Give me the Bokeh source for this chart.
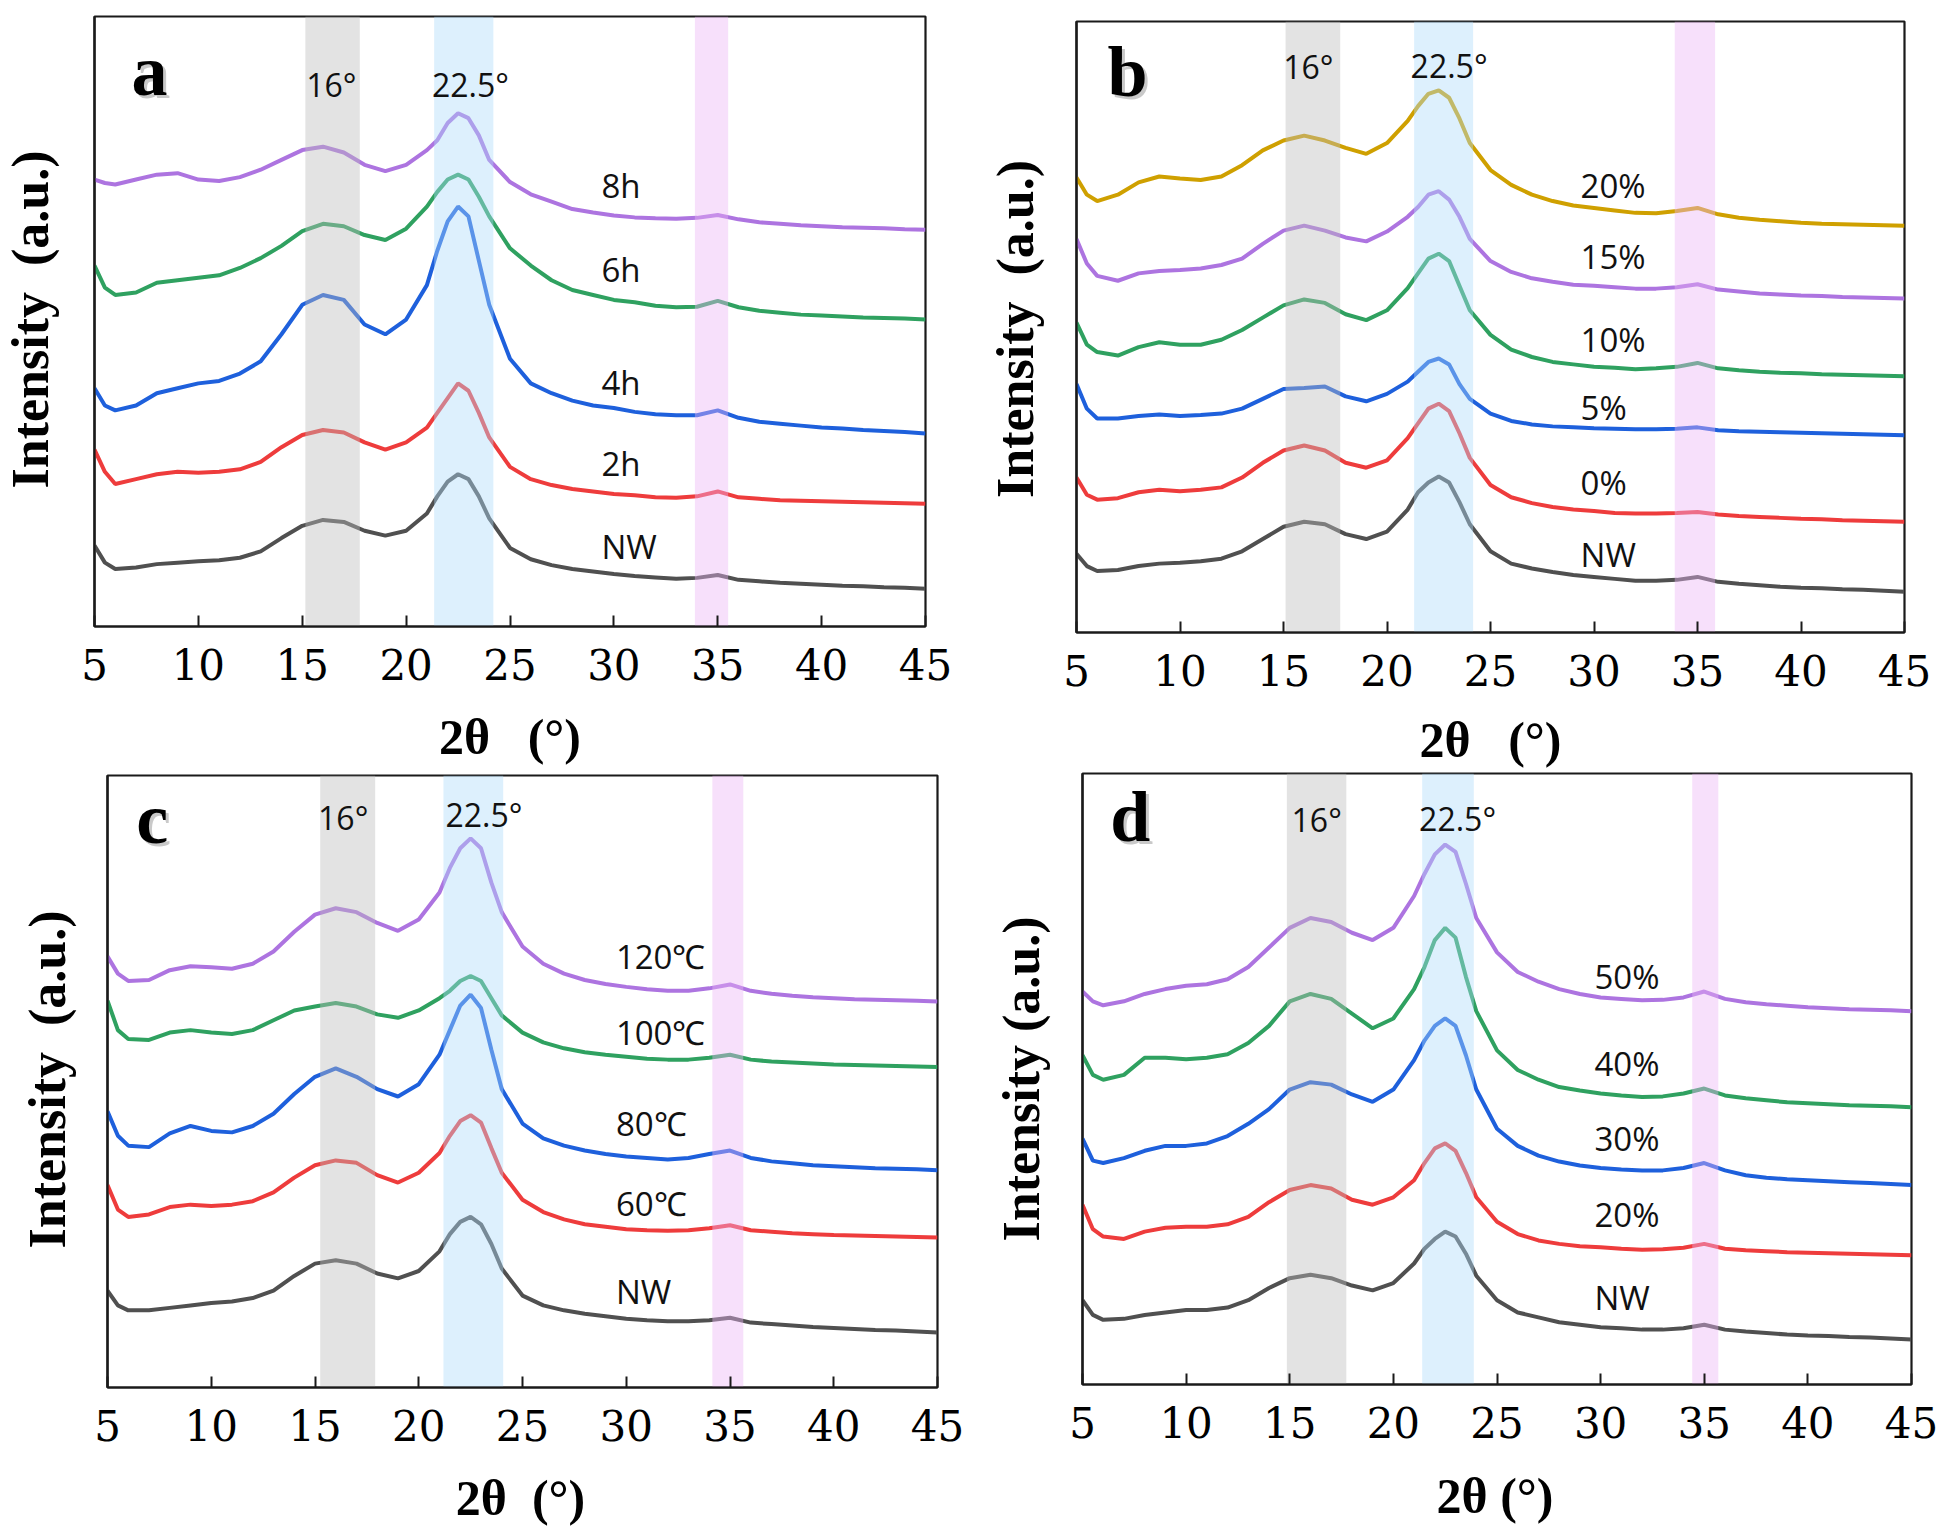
import math
from bokeh.plotting import figure
from bokeh.layouts import column, row
from bokeh.models import FixedTicker, Spacer
from bokeh.core.properties import value
from bokeh.embed import file_html
from bokeh.resources import INLINE

# ---------------- data (2theta in degrees, intensity in a.u.) ----------------
two_theta = [5, 5.5, 6, 7, 8, 9, 10, 11, 12, 13, 14, 15, 16, 17, 18, 19, 20, 21, 21.5,
             22, 22.5, 23, 23.5, 24, 25, 26, 27, 28, 29, 30, 31, 32, 33, 34, 35, 36,
             37, 38, 39, 40, 41, 42, 43, 44, 45]

# panel a : reaction time
a_labels = ["NW", "2h", "4h", "6h", "8h"]
a_NW = [165,130,117,120,127,130,133,135,140,153,180,205,217,213,195,185,195,230,265,295,310,300,265,220,160,137,125,117,112,107,103,100,97,99,105,95,92,89,87,85,83,82,80,79,77]
a_2h = [360,315,290,300,310,315,313,315,320,335,365,390,400,395,375,360,375,405,435,465,495,480,435,385,325,300,288,280,275,270,267,263,262,265,275,263,260,257,256,255,254,253,252,251,250]
a_4h = [485,450,440,450,475,485,495,500,515,540,595,655,675,665,615,595,625,695,765,825,855,835,745,655,545,495,475,460,450,445,437,432,430,430,440,425,417,413,409,405,403,400,398,396,393]
a_6h = [735,690,675,680,700,705,710,715,730,750,775,805,820,815,797,787,810,855,885,910,920,910,875,835,770,735,705,685,675,665,660,653,650,651,663,650,643,639,635,633,631,629,628,627,625]
a_8h = [910,903,900,910,920,923,910,907,915,930,950,970,977,965,940,927,940,970,990,1025,1045,1035,1000,950,905,880,865,850,843,837,833,831,830,832,838,829,823,820,817,815,813,812,811,809,808]
a_label_y = [140, 310, 475, 705, 875]

# panel b : concentration
b_labels = ["NW", "0%", "5%", "10%", "15%", "20%"]
b_NW = [160,135,125,127,135,140,142,145,150,165,190,215,225,220,200,190,205,250,285,305,317,305,265,220,165,140,130,123,117,113,109,105,105,107,113,103,99,96,93,91,90,88,87,85,83]
b_0 = [315,280,270,273,285,290,287,290,295,315,345,370,380,370,345,335,350,395,425,455,465,450,405,355,300,275,263,255,250,247,243,242,242,243,245,240,237,235,233,231,230,228,227,226,225]
b_5 = [505,455,435,435,440,443,440,442,445,455,475,495,497,500,480,470,485,510,530,550,557,545,505,475,445,430,423,419,417,415,414,413,413,414,417,411,409,408,407,406,405,404,403,402,401]
b_10 = [630,585,570,563,580,590,585,585,595,615,640,665,677,670,647,635,655,700,730,760,770,755,705,655,605,575,560,550,545,540,538,535,537,540,548,537,533,530,528,527,525,524,523,522,521]
b_15 = [800,750,725,715,730,735,737,740,747,760,790,817,827,817,803,795,815,845,865,890,897,880,845,800,755,733,720,713,707,705,702,699,699,702,708,697,693,689,687,685,684,682,681,680,679]
b_20 = [925,890,877,890,915,927,923,920,927,950,980,1000,1010,1000,985,973,995,1040,1070,1095,1102,1087,1045,995,940,910,890,877,868,863,858,853,852,857,863,850,843,839,836,833,831,830,829,828,827]
b_label_y = [137, 282, 435, 573, 742, 887]

# panel c : temperature
c_labels = ["NW", "60\u2103", "80\u2103", "100\u2103", "120\u2103"]
c_NW = [197,167,157,157,162,167,172,175,182,197,227,252,259,252,232,222,237,277,312,337,347,332,292,242,187,167,157,150,145,140,137,135,135,137,142,132,129,126,123,121,119,117,116,114,112]
c_60 = [412,362,347,352,367,372,369,372,379,397,427,452,462,457,432,417,437,477,512,542,554,539,487,437,382,357,342,332,327,322,320,319,320,324,330,320,317,314,312,310,309,308,307,306,305]
c_80 = [562,512,492,489,517,532,522,519,532,557,597,632,649,632,607,592,617,677,727,777,799,772,687,607,537,507,492,482,475,470,467,464,467,475,482,467,460,456,452,450,448,446,445,444,442]
c_100 = [787,727,709,707,722,727,722,719,727,747,767,775,782,775,759,752,767,792,807,827,837,827,792,757,722,702,690,682,677,673,669,667,667,671,677,667,663,661,659,657,656,655,654,653,652]
c_120 = [877,842,827,829,849,857,855,852,862,887,927,962,975,967,945,929,952,1007,1057,1097,1117,1097,1027,967,897,862,842,829,821,815,810,807,807,812,820,807,801,797,794,792,790,789,788,787,785]
c_label_y = [172, 352, 515, 699, 854]

# panel d : ratio
d_labels = ["NW", "20%", "30%", "40%", "50%"]
d_NW = [172,142,132,134,142,147,152,152,157,172,197,217,224,217,202,192,207,247,277,297,312,302,267,222,172,147,137,127,122,117,115,112,112,115,122,112,108,105,102,100,99,97,96,94,92]
d_20 = [367,317,302,297,312,320,322,322,327,342,372,397,407,400,377,367,382,417,452,482,492,477,432,382,332,307,294,287,282,280,277,275,276,279,287,277,274,272,270,269,268,267,266,265,264]
d_30 = [502,457,452,462,477,487,487,492,507,532,562,602,617,612,592,577,602,662,702,732,747,732,672,602,522,487,467,455,447,442,439,437,437,442,452,437,427,422,419,417,415,413,411,409,407]
d_40 = [672,632,622,632,667,667,664,667,674,697,732,782,797,787,757,727,747,807,852,907,932,912,832,762,682,642,622,607,600,594,590,587,588,594,604,590,584,580,576,574,572,570,569,568,566]
d_50 = [802,782,774,782,797,807,814,817,827,852,892,932,952,944,922,907,932,997,1042,1082,1102,1087,1022,952,882,842,822,807,797,790,787,784,785,790,802,787,780,776,773,770,768,766,765,764,762]
d_label_y = [155, 325, 479, 632, 810]

# shaded regions (left, right in degrees): 16 deg, 22.5 deg, 35 deg
a_band_l = [15.15, 21.35, 33.9];  a_band_r = [17.77, 24.2, 35.5]
b_band_l = [15.1, 21.31, 33.9];   b_band_r = [17.74, 24.16, 35.85]
c_band_l = [15.25, 21.19, 34.15]; c_band_r = [17.9, 24.07, 35.64]
d_band_l = [14.86, 21.39, 34.42]; d_band_r = [17.73, 23.88, 35.68]

peak_text = ["16\u00b0", "22.5\u00b0"]
x_ticks = [5, 10, 15, 20, 25, 30, 35, 40, 45]

# ---------------- styling ----------------
COL = {"gray": "#505050", "red": "#ee3c3c", "blue": "#1e60dc", "green": "#2fa160",
       "purple": "#ad74e0", "gold": "#cfa000"}
BAND_COLORS = ["#bcbcbc", "#afdcfa", "#ebb6f5"]
SERIF_BOLD = "Liberation Serif"
SERIF_REG = "DejaVu Serif"
SANS = "Open Sans"


def make_panel(letter, series, colors, labels, label_y, label_x, band_l, band_r, y_top,
               peak_pos, letter_pos, xlabel, ylabel, ylab_gap, ylab_dy, xlab_dx, xlab_dy,
               width, height, borders):
    bl, br, bt, bb = borders
    p = figure(width=width, height=height, output_backend="svg", toolbar_location=None,
               x_range=(5, 45), y_range=(0, y_top),
               min_border_left=bl, min_border_right=br, min_border_top=bt,
               min_border_bottom=bb)
    p.xgrid.visible = False
    p.ygrid.visible = False
    p.outline_line_color = "#1a1a1a"
    p.outline_line_width = 2.2

    for s, c in zip(series, colors):
        p.line(two_theta, s, line_color=c, line_width=4)

    # translucent bands over the curves
    p.quad(left=band_l, right=band_r, bottom=0, top=y_top, fill_color=BAND_COLORS,
           fill_alpha=0.42, line_color=None)

    p.text(x=[label_x] * len(labels), y=label_y, text=labels, y_offset=-11,
           text_font=value(SANS), text_font_size="33px", text_color="#111111",
           text_align="left", text_baseline="alphabetic")

    p.text(x=[pp[0] for pp in peak_pos], y=[pp[1] for pp in peak_pos], text=peak_text,
           y_offset=-14, text_font=value(SANS), text_font_size="32px", text_color="#111111",
           text_align="center", text_baseline="alphabetic")

    p.text(x=[letter_pos[0]], y=[letter_pos[1]], text=[letter], x_offset=3, y_offset=-21,
           text_font=value(SERIF_BOLD), text_font_style="bold", text_font_size="72px",
           text_color="#888888", text_alpha=0.45, text_align="center",
           text_baseline="alphabetic")
    p.text(x=[letter_pos[0]], y=[letter_pos[1]], text=[letter], y_offset=-24,
           text_font=value(SERIF_BOLD), text_font_style="bold", text_font_size="72px",
           text_color="#000000", text_align="center", text_baseline="alphabetic")

    # axis titles (drawn outside the frame, unclipped)
    p.text(x=[25], y=[0], text=[xlabel], x_offset=xlab_dx, y_offset=xlab_dy,
           text_font=value(SERIF_BOLD), text_font_style="bold", text_font_size="50px",
           text_color="#000000", text_align="center", text_baseline="alphabetic",
           level="overlay")
    p.text(x=[5], y=[y_top / 2], text=[ylabel], x_offset=-ylab_gap, y_offset=ylab_dy,
           angle=math.pi / 2,
           text_font=value(SERIF_BOLD), text_font_style="bold", text_font_size="52px",
           text_color="#000000", text_align="center", text_baseline="alphabetic",
           level="overlay")

    xa = p.xaxis[0]
    xa.ticker = FixedTicker(ticks=x_ticks)
    xa.minor_tick_line_color = None
    xa.major_tick_in = 11
    xa.major_tick_out = 0
    xa.major_tick_line_width = 2
    xa.major_tick_line_color = "#1a1a1a"
    xa.axis_line_width = 2.2
    xa.axis_line_color = "#1a1a1a"
    xa.major_label_text_font = SERIF_REG
    xa.major_label_text_font_size = "42px"
    xa.major_label_text_color = "#000000"
    xa.major_label_standoff = 22

    ya = p.yaxis[0]
    ya.ticker = FixedTicker(ticks=[])
    ya.minor_tick_line_color = None
    ya.major_tick_line_color = None
    ya.axis_line_width = 2.2
    ya.axis_line_color = "#1a1a1a"
    return p


pa = make_panel("a", [a_NW, a_2h, a_4h, a_6h, a_8h],
                [COL["gray"], COL["red"], COL["blue"], COL["green"], COL["purple"]],
                a_labels, a_label_y, 29.4, a_band_l, a_band_r, 1242,
                [(16.4, 1075), (23.1, 1075)], (7.65, 1083),
                "2\u03b8 \u00a0 (\u00b0)", "Intensity \u00a0(a.u.)", 64, -2, 0, 110,
                974, 774, (94, 49, 16, 148))

pc = make_panel("c", [c_NW, c_60, c_80, c_100, c_120],
                [COL["gray"], COL["red"], COL["blue"], COL["green"], COL["purple"]],
                c_labels, c_label_y, 29.5, c_band_l, c_band_r, 1245,
                [(16.36, 1132), (23.14, 1137)], (7.16, 1107),
                "2\u03b8 \u00a0(\u00b0)", "Intensity \u00a0(a.u.)", 60, -2, -2, 110,
                961, 762, (94, 37, 1, 149))

pb = make_panel("b", [b_NW, b_0, b_5, b_10, b_15, b_20],
                [COL["gray"], COL["red"], COL["blue"], COL["green"], COL["purple"], COL["gold"]],
                b_labels, b_label_y, 29.35, b_band_l, b_band_r, 1242,
                [(16.2, 1122), (23.0, 1125)], (7.46, 1090),
                "2\u03b8 \u00a0 (\u00b0)", "Intensity \u00a0(a.u.)", 61, 2, 0, 107,
                972, 772, (102, 42, 21, 140))

pd_ = make_panel("d", [d_NW, d_20, d_30, d_40, d_50],
                 [COL["gray"], COL["red"], COL["blue"], COL["green"], COL["purple"]],
                 d_labels, d_label_y, 29.7, d_band_l, d_band_r, 1247,
                 [(16.3, 1124), (23.1, 1127)], (7.3, 1109),
                 "2\u03b8 (\u00b0)", "Intensity (a.u.)", 61, 0, -2, 111,
                 966, 764, (102, 35, 1, 152))

layout = row(column(pa, row(Spacer(width=13, height=762), pc)),
             column(pb, row(Spacer(width=6, height=764), pd_)))
open("out.html", "w").write(file_html(layout, INLINE))
